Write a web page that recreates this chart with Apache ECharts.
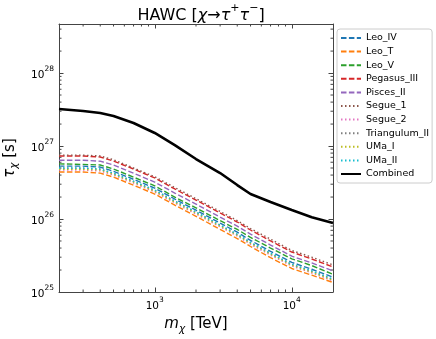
<!DOCTYPE html>
<html>
<head>
<meta charset="utf-8">
<script src="https://cdn.jsdelivr.net/npm/echarts@6/dist/echarts.min.js"></script>
<style>
  html, body { margin: 0; padding: 0; background: #fff; }
  #main { width: 436px; height: 339px; }
</style>
</head>
<body>
<div id="main"></div>
<script>
// dark matter mass grid (TeV)
const masses = [200, 300, 400, 500, 700, 1000, 1400, 2000, 3000, 4000, 5000, 7000, 10000, 14000, 20000];

// lifetime limits (s), one array per dwarf
const leoIV = [5.3e26, 5.3e26, 5.15e26, 4.5e26, 3.5e26, 2.65e26, 1.88e26, 1.32e26, 8.8e25, 6.6e25, 5.1e25, 3.6e25, 2.55e25, 2.05e25, 1.6e25];
const leoT = [4.4e26, 4.4e26, 4.25e26, 3.75e26, 2.9e26, 2.2e26, 1.55e26, 1.09e26, 7.2e25, 5.4e25, 4.2e25, 2.95e25, 2.1e25, 1.7e25, 1.35e25];
const leoV = [5.7e26, 5.6e26, 5.5e26, 4.85e26, 3.75e26, 2.85e26, 2.0e26, 1.42e26, 9.5e25, 7.2e25, 5.6e25, 4.0e25, 2.85e25, 2.3e25, 1.75e25];
const pegasusIII = [7.3e26, 7.3e26, 7.07e26, 6.23e26, 4.84e26, 3.65e26, 2.58e26, 1.82e26, 1.21e26, 9.1e25, 7.07e25, 5.0e25, 3.53e25, 2.83e25, 2.2e25];
const piscesII = [6.4e26, 6.4e26, 6.2e26, 5.5e26, 4.25e26, 3.2e26, 2.27e26, 1.6e26, 1.06e26, 8.0e25, 6.2e25, 4.4e25, 3.1e25, 2.5e25, 1.95e25];
const segue1 = [7.5e26, 7.5e26, 7.3e26, 6.5e26, 5.0e26, 3.8e26, 2.7e26, 1.9e26, 1.27e26, 9.5e25, 7.4e25, 5.3e25, 3.7e25, 3.0e25, 2.35e25];
const segue2 = [4.7e26, 4.7e26, 4.55e26, 4.0e26, 3.1e26, 2.35e26, 1.66e26, 1.17e26, 7.8e25, 5.85e25, 4.5e25, 3.2e25, 2.27e25, 1.82e25, 1.42e25];
const triangulumII = [4.95e26, 4.95e26, 4.8e26, 4.2e26, 3.25e26, 2.45e26, 1.75e26, 1.24e26, 8.2e25, 6.1e25, 4.75e25, 3.35e25, 2.38e25, 1.92e25, 1.48e25];
const umaI = [4.8e26, 4.8e26, 4.7e26, 4.1e26, 3.2e26, 2.4e26, 1.7e26, 1.2e26, 8.0e25, 6.0e25, 4.65e25, 3.3e25, 2.33e25, 1.87e25, 1.45e25];
const umaII = [5.0e26, 5.0e26, 4.85e26, 4.25e26, 3.3e26, 2.5e26, 1.77e26, 1.25e26, 8.3e25, 6.2e25, 4.8e25, 3.4e25, 2.4e25, 1.95e25, 1.5e25];
const combined = [3.21e27, 3.02e27, 2.83e27, 2.58e27, 2.07e27, 1.51e27, 1.03e27, 6.64e26, 4.27e26, 2.92e26, 2.2e26, 1.71e26, 1.33e26, 1.06e26, 8.8e25];

// minor tick positions
const xMinor = [300, 400, 500, 600, 700, 800, 900, 2000, 3000, 4000, 5000, 6000, 7000, 8000, 9000];
const yMinor = [2e25, 3e25, 4e25, 5e25, 6e25, 7e25, 8e25, 9e25,
  2e26, 3e26, 4e26, 5e26, 6e26, 7e26, 8e26, 9e26,
  2e27, 3e27, 4e27, 5e27, 6e27, 7e27, 8e27, 9e27,
  2e28, 3e28, 4e28];

const X_MIN = 200, X_MAX = 20000, Y_MIN = 1e25, Y_MAX = 4.7e28;
const FONT = 'DejaVu Sans';
const FRAME = '#444';

function powLabel(v) {
  const e = Math.log10(v);
  if (Math.abs(e - Math.round(e)) > 1e-6) return '';
  return '{b|10}{p|' + Math.round(e) + '}';
}
const powRich = {
  b: { fontFamily: FONT, fontSize: 10.5, color: '#000', lineHeight: 16, verticalAlign: 'bottom' },
  p: { fontFamily: FONT, fontSize: 7.5, color: '#000', lineHeight: 16, verticalAlign: 'top' },
};

const DASHED = [5.5, 2.4];
const DOTTED = [1.5, 2.5];
const dwarfs = [
  { name: 'Leo_IV', data: leoIV, color: '#1f77b4', type: DASHED },
  { name: 'Leo_T', data: leoT, color: '#ff7f0e', type: DASHED },
  { name: 'Leo_V', data: leoV, color: '#2ca02c', type: DASHED },
  { name: 'Pegasus_III', data: pegasusIII, color: '#d62728', type: DASHED },
  { name: 'Pisces_II', data: piscesII, color: '#9467bd', type: DASHED },
  { name: 'Segue_1', data: segue1, color: '#8c564b', type: DOTTED },
  { name: 'Segue_2', data: segue2, color: '#e377c2', type: DOTTED },
  { name: 'Triangulum_II', data: triangulumII, color: '#7f7f7f', type: DOTTED },
  { name: 'UMa_I', data: umaI, color: '#bcbd22', type: DOTTED },
  { name: 'UMa_II', data: umaII, color: '#17becf', type: DOTTED },
];

const series = dwarfs.map(d => ({
  name: d.name,
  type: 'line',
  xAxisIndex: 0,
  yAxisIndex: 0,
  showSymbol: false,
  symbol: 'none',
  silent: true,
  lineStyle: { color: d.color, width: 1.4, type: d.type },
  itemStyle: { color: d.color },
  data: masses.map((m, i) => [m, d.data[i]]),
}));
series.push({
  name: 'Combined',
  type: 'line',
  xAxisIndex: 0,
  yAxisIndex: 0,
  showSymbol: false,
  symbol: 'none',
  silent: true,
  lineStyle: { color: '#000', width: 2.6 },
  itemStyle: { color: '#000' },
  data: masses.map((m, i) => [m, combined[i]]),
});

// minor ticks drawn through the axes' scales
series.push({
  type: 'custom',
  xAxisIndex: 0,
  yAxisIndex: 0,
  silent: true,
  clip: false,
  renderItem: function (params, api) {
    const cs = params.coordSys;
    const x = api.coord([api.value(0), Y_MIN])[0];
    const st = { stroke: FRAME, lineWidth: 1 };
    return {
      type: 'group',
      children: [
        { type: 'line', shape: { x1: x, y1: cs.y + cs.height, x2: x, y2: cs.y + cs.height - 2.5 }, style: st },
        { type: 'line', shape: { x1: x, y1: cs.y, x2: x, y2: cs.y + 2.5 }, style: st },
      ],
    };
  },
  data: xMinor.map(v => [v, Y_MIN]),
});
series.push({
  type: 'custom',
  xAxisIndex: 0,
  yAxisIndex: 0,
  silent: true,
  clip: false,
  renderItem: function (params, api) {
    const cs = params.coordSys;
    const y = api.coord([X_MIN, api.value(1)])[1];
    const st = { stroke: FRAME, lineWidth: 1 };
    return {
      type: 'group',
      children: [
        { type: 'line', shape: { x1: cs.x, y1: y, x2: cs.x + 2.5, y2: y }, style: st },
        { type: 'line', shape: { x1: cs.x + cs.width, y1: y, x2: cs.x + cs.width - 2.5, y2: y }, style: st },
      ],
    };
  },
  data: yMinor.map(v => [X_MIN, v]),
});

const axisCommon = {
  type: 'log',
  logBase: 10,
  axisLine: { show: true, onZero: false, lineStyle: { color: FRAME, width: 1 } },
  axisTick: { show: true, inside: true, length: 4.5, lineStyle: { color: FRAME, width: 1 } },
  splitLine: { show: false },
  minorTick: { show: false },
};

const nameRich = {
  i: { fontFamily: FONT, fontSize: 15, fontStyle: 'italic', color: '#000', lineHeight: 20, verticalAlign: 'middle' },
  s: { fontFamily: FONT, fontSize: 10.5, fontStyle: 'italic', color: '#000', lineHeight: 20, verticalAlign: 'bottom' },
  n: { fontFamily: FONT, fontSize: 15, color: '#000', lineHeight: 20, verticalAlign: 'middle' },
};

const chart = echarts.init(document.getElementById('main'), null, { renderer: 'canvas' });
chart.setOption({
  animation: false,
  backgroundColor: '#fff',
  textStyle: { fontFamily: FONT },
  title: {
    text: '{n|HAWC [}{g|χ}{n|→}{g|τ}{p|+}{g|τ}{p|−}{n|]}',
    left: 196,
    textAlign: 'center',
    top: -3,
    textStyle: {
      fontFamily: FONT, fontSize: 16, fontWeight: 'normal', color: '#000',
      rich: {
        n: { fontFamily: FONT, fontSize: 16, color: '#000', lineHeight: 22, verticalAlign: 'bottom' },
        g: { fontFamily: FONT, fontSize: 16, fontStyle: 'italic', color: '#000', lineHeight: 22, verticalAlign: 'bottom' },
        p: { fontFamily: FONT, fontSize: 11, color: '#000', lineHeight: 22, verticalAlign: 'top', padding: [1, 0, 0, 0] },
      },
    },
  },
  grid: { left: 59, right: 103, top: 24, bottom: 47, containLabel: false, outerBoundsMode: 'none' },
  legend: {
    orient: 'vertical',
    left: 337,
    top: 29,
    padding: [4, 3, 4, 3],
    itemWidth: 20,
    itemHeight: 10,
    itemGap: 3.6,
    backgroundColor: '#fff',
    borderColor: '#ccc',
    borderWidth: 1,
    borderRadius: 3,
    itemStyle: { opacity: 0 },
    textStyle: { fontFamily: FONT, fontSize: 9.5, color: '#000' },
    data: dwarfs.map(d => d.name).concat(['Combined']),
  },
  xAxis: [
    Object.assign({}, axisCommon, {
      position: 'bottom',
      min: X_MIN,
      max: X_MAX,
      name: '{i|m}{s|χ}{n| [TeV]}',
      nameLocation: 'middle',
      nameGap: 22,
      nameTextStyle: { fontFamily: FONT, fontSize: 15, color: '#000', rich: nameRich },
      axisLabel: { show: true, margin: 4, formatter: powLabel, rich: powRich, showMinLabel: true, showMaxLabel: true },
    }),
    Object.assign({}, axisCommon, {
      position: 'top',
      min: X_MIN,
      max: X_MAX,
      axisLabel: { show: false },
    }),
  ],
  yAxis: [
    Object.assign({}, axisCommon, {
      position: 'left',
      min: Y_MIN,
      max: Y_MAX,
      name: '{i|τ}{s|χ}{n| [s]}',
      nameLocation: 'middle',
      nameGap: 37,
      nameRotate: 90,
      nameTextStyle: { fontFamily: FONT, fontSize: 15, color: '#000', rich: nameRich },
      axisLabel: { show: true, margin: 5, formatter: powLabel, rich: powRich },
    }),
    Object.assign({}, axisCommon, {
      position: 'right',
      min: Y_MIN,
      max: Y_MAX,
      axisLabel: { show: false },
    }),
  ],
  series: series,
});
</script>
</body>
</html>
